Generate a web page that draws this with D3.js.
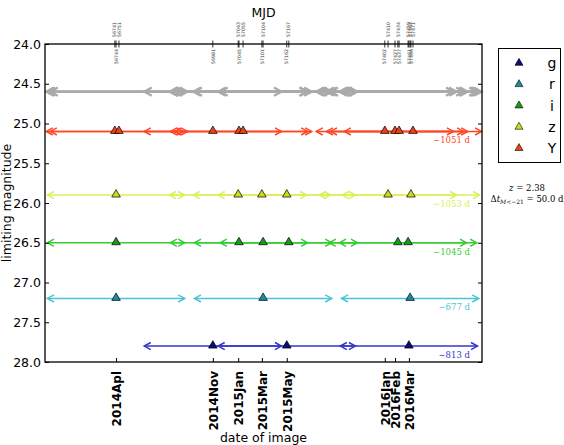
<!DOCTYPE html>
<html>
<head>
<meta charset="utf-8">
<script src="https://cdn.jsdelivr.net/npm/d3@7"></script>
<style>
body { margin: 0; background: #fff; }
</style>
</head>
<body>
<svg id="chart"></svg>
<script>
var width = 564
var height = 445

var bands = ["g", "r", "i", "z", "Y"]
var bandMag = [27.8, 27.2, 26.5, 25.9, 25.1]
var obsG = [56981, 57162, 57461]
var obsR = [56744, 57104, 57464]
var obsI = [56744, 57045, 57104, 57167, 57434, 57459]
var obsZ = [56744, 57043, 57101, 57162, 57410, 57466]
var obsY = [56741, 56751, 56981, 57045, 57055, 57402, 57427, 57437, 57471]
var allMag = 24.6
var halfWindow = 168   // days, observer frame
var coverText = ["\u223c813 d", "\u223c677 d", "\u223c1045 d", "\u223c1053 d", "\u223c1051 d"]

var lineColors = ["#3434cc", "#4cc4d4", "#36cc36", "#dcef5a", "#ff4624"]
var markColors = ["#0b0b7c", "#1a8e9e", "#169c16", "#cadd16", "#e8421a"]
var allColor = "#aaaaaa"

var monthTicks = [56744, 56981, 57043, 57101, 57162, 57402, 57427, 57461]
var monthLabels = ["2014Apl", "2014Nov", "2015Jan", "2015Mar", "2015May", "2016Jan", "2016Feb", "2016Mar"]
var magTicks = [24.0, 24.5, 25.0, 25.5, 26.0, 26.5, 27.0, 27.5, 28.0]

var obsByBand = [obsG, obsR, obsI, obsZ, obsY]
var allObs = Array.from(new Set([].concat(obsG, obsR, obsI, obsZ, obsY))).sort(d3.ascending)

var plotL = 45, plotR = 482, plotT = 44, plotB = 362

var svg = d3.select("#chart")
    .attr("width", width)
    .attr("height", height)
    .style("font-family", "'DejaVu Sans', sans-serif")

var x = d3.scaleLinear().domain([56570, 57640]).range([plotL, plotR])
var y = d3.scaleLinear().domain([24, 28]).range([plotT, plotB])

// one row: arrows t-halfWindow <-> t+halfWindow for every observation
function drawRow(dates, mag, color, lw, head) {
    var g = svg.append("g")
    var yy = y(mag)
    dates.forEach(function(t) {
        var x1 = x(t - halfWindow), x2 = x(t + halfWindow)
        g.append("line")
            .attr("x1", x1).attr("x2", x2)
            .attr("y1", yy).attr("y2", yy)
            .attr("stroke", color).attr("stroke-width", lw)
        g.append("path")
            .attr("d", "M" + (x1 + head) + "," + (yy - head * 0.55) + "L" + x1 + "," + yy + "L" + (x1 + head) + "," + (yy + head * 0.55))
            .attr("fill", "none").attr("stroke", color).attr("stroke-width", lw)
        g.append("path")
            .attr("d", "M" + (x2 - head) + "," + (yy - head * 0.55) + "L" + x2 + "," + yy + "L" + (x2 - head) + "," + (yy + head * 0.55))
            .attr("fill", "none").attr("stroke", color).attr("stroke-width", lw)
    })
    return g
}

var tri = d3.symbol().type(d3.symbolTriangle)

drawRow(allObs, allMag, allColor, 2.2, 7.5)

bands.forEach(function(b, i) {
    drawRow(obsByBand[i], bandMag[i], lineColors[i], 1.5, 6.5)
    svg.append("g").selectAll("path")
        .data(obsByBand[i])
        .enter().append("path")
        .attr("d", tri.size(32))
        .attr("transform", function(d) { return "translate(" + x(d) + "," + (y(bandMag[i]) - 0.5) + ")" })
        .attr("fill", markColors[i])
        .attr("stroke", "#000")
        .attr("stroke-width", 0.7)
    svg.append("text")
        .attr("x", 470)
        .attr("y", y(bandMag[i]) + 12)
        .attr("text-anchor", "end")
        .style("font-family", "'DejaVu Serif', serif")
        .style("font-size", "8.5px")
        .style("fill", lineColors[i])
        .text(coverText[i])
})

// frame
svg.append("rect")
    .attr("x", plotL).attr("y", plotT)
    .attr("width", plotR - plotL).attr("height", plotB - plotT)
    .attr("fill", "none").attr("stroke", "#000").attr("stroke-width", 1.3)

// y axis, ticks inside on both sides
var yAxis = svg.append("g")
    .attr("transform", "translate(" + plotL + ",0)")
    .call(d3.axisLeft(y).tickValues(magTicks).tickFormat(d3.format(".1f")).tickSize(-4).tickSizeOuter(0).tickPadding(4))
yAxis.select(".domain").remove()
yAxis.selectAll("text").style("font-size", "12.5px").style("font-family", "'DejaVu Sans', sans-serif").attr("fill", "#000")

var yAxisR = svg.append("g")
    .attr("transform", "translate(" + plotR + ",0)")
    .call(d3.axisRight(y).tickValues(magTicks).tickFormat("").tickSize(-4).tickSizeOuter(0))
yAxisR.select(".domain").remove()

// bottom: month of image
var xAxis = svg.append("g")
    .attr("transform", "translate(0," + plotB + ")")
    .call(d3.axisBottom(x).tickValues(monthTicks).tickFormat(function(d, i) { return monthLabels[i] }).tickSize(-4).tickSizeOuter(0))
xAxis.select(".domain").remove()
xAxis.selectAll("text")
    .attr("transform", "translate(0,9) rotate(-90)")
    .attr("x", 0).attr("y", 0).attr("dy", "0.36em")
    .attr("text-anchor", "end")
    .attr("fill", "#000")
    .style("font-size", "12px")
    .style("font-weight", "bold")
    .style("font-family", "'DejaVu Sans', sans-serif")

// top: MJD of every observation, labels alternate outside / inside
var topAxis = svg.append("g")
allObs.forEach(function(t, i) {
    var xx = x(t)
    topAxis.append("line")
        .attr("x1", xx).attr("x2", xx)
        .attr("y1", plotT - 3.5).attr("y2", plotT + 3.5)
        .attr("stroke", "#000").attr("stroke-width", 0.8)
    var above = i % 2 == 0
    topAxis.append("text")
        .attr("transform", "translate(" + xx + "," + (above ? plotT - 7 : plotT + 5) + ") rotate(-90)")
        .attr("dy", "0.35em")
        .attr("text-anchor", above ? "start" : "end")
        .style("font-size", "4.7px")
        .style("fill", "#333")
        .text(t)
})

// titles
svg.append("text")
    .attr("x", (plotL + plotR) / 2).attr("y", 17)
    .attr("text-anchor", "middle")
    .style("font-size", "12.5px")
    .text("MJD")
svg.append("text")
    .attr("x", (plotL + plotR) / 2).attr("y", 442)
    .attr("text-anchor", "middle")
    .style("font-size", "12.5px")
    .text("date of image")
svg.append("text")
    .attr("transform", "translate(11," + (plotT + plotB) / 2 + ") rotate(-90)")
    .attr("text-anchor", "middle")
    .style("font-size", "12.5px")
    .text("limiting magnitude")

// legend
var legend = svg.append("g").attr("transform", "translate(498,48)")
legend.append("rect")
    .attr("x", 0.5).attr("y", 0.5)
    .attr("width", 62).attr("height", 114)
    .attr("fill", "#fff").attr("stroke", "#000").attr("stroke-width", 1)
bands.forEach(function(b, i) {
    var ly = 15 + i * 21.3
    legend.append("path")
        .attr("d", tri.size(28))
        .attr("transform", "translate(21," + ly + ")")
        .attr("fill", markColors[i])
        .attr("stroke", "#000")
        .attr("stroke-width", 0.6)
    legend.append("text")
        .attr("x", 54).attr("y", ly)
        .attr("dy", "0.36em")
        .attr("text-anchor", "middle")
        .style("font-size", "14px")
        .text(b)
})

// redshift note
var note = svg.append("g")
    .style("font-family", "'DejaVu Serif', serif")
    .style("font-size", "8.5px")
note.append("text")
    .attr("x", 527).attr("y", 191)
    .attr("text-anchor", "middle")
    .html("<tspan font-style='italic'>z</tspan> = 2.38")
note.append("text")
    .attr("x", 527).attr("y", 202)
    .attr("text-anchor", "middle")
    .html("\u0394<tspan font-style='italic'>t</tspan><tspan font-size='6px' dy='2'><tspan font-style='italic'>M</tspan>&lt;\u221221</tspan><tspan dy='-2'> = 50.0 d</tspan>")
</script>
</body>
</html>
